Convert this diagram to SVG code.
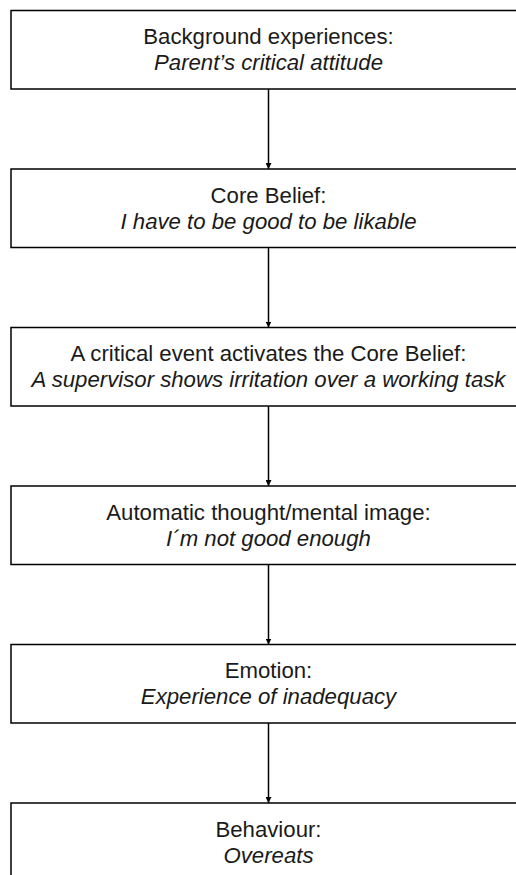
<svg xmlns="http://www.w3.org/2000/svg" width="516" height="875" viewBox="0 0 516 875">
<defs>
<style>
.box{fill:#fff;stroke:#000;stroke-width:1.5}
.t{font-family:"Liberation Sans",Arial,sans-serif;font-size:22.2px;fill:#1a1a1a;text-anchor:middle}
.i{font-style:italic}
.c{stroke:#000;stroke-width:1.5;fill:none}
</style>
<marker id="ah" markerWidth="6" markerHeight="6" refX="6" refY="3" orient="auto" markerUnits="userSpaceOnUse">
<path d="M0,0 L6,3 L0,6 z" fill="#000"/>
</marker>
</defs>
<rect width="516" height="875" fill="#fff"/>
<g id="connectors">
<line class="c" x1="268.5" y1="89" x2="268.5" y2="169" marker-end="url(#ah)"/>
<line class="c" x1="268.5" y1="247.5" x2="268.5" y2="327.5" marker-end="url(#ah)"/>
<line class="c" x1="268.5" y1="406" x2="268.5" y2="486" marker-end="url(#ah)"/>
<line class="c" x1="268.5" y1="564.5" x2="268.5" y2="644.5" marker-end="url(#ah)"/>
<line class="c" x1="268.5" y1="723" x2="268.5" y2="803" marker-end="url(#ah)"/>
</g>
<g id="n1">
<rect class="box" x="11" y="10.5" width="515" height="78.5"/>
<text class="t" x="268.5" y="44">Background experiences:</text>
<text class="t i" x="268.5" y="70">Parent’s critical attitude</text>
</g>
<g id="n2">
<rect class="box" x="11" y="169" width="515" height="78.5"/>
<text class="t" x="268.5" y="202.5">Core Belief:</text>
<text class="t i" x="268.5" y="228.5">I have to be good to be likable</text>
</g>
<g id="n3">
<rect class="box" x="11" y="327.5" width="515" height="78.5"/>
<text class="t" x="268.5" y="361">A critical event activates the Core Belief:</text>
<text class="t i" x="268.5" y="387">A supervisor shows irritation over a working task</text>
</g>
<g id="n4">
<rect class="box" x="11" y="486" width="515" height="78.5"/>
<text class="t" x="268.5" y="519.5">Automatic thought/mental image:</text>
<text class="t i" x="268.5" y="545.5">I´m not good enough</text>
</g>
<g id="n5">
<rect class="box" x="11" y="644.5" width="515" height="78.5"/>
<text class="t" x="268.5" y="678">Emotion:</text>
<text class="t i" x="268.5" y="704">Experience of inadequacy</text>
</g>
<g id="n6">
<rect class="box" x="11" y="803" width="515" height="100"/>
<text class="t" x="268.5" y="836.5">Behaviour:</text>
<text class="t i" x="268.5" y="862.5">Overeats</text>
</g>
</svg>
